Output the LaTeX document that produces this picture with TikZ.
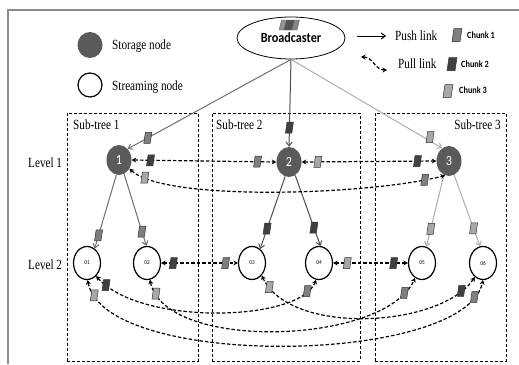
\documentclass[tikz,border=0pt]{standalone}
\usepackage{fontspec}
\setmainfont{Liberation Serif}[FakeStretch=0.8]
\newfontfamily\calfont{Carlito}[FakeStretch=0.87]
\usetikzlibrary{shapes.geometric,arrows.meta}
\definecolor{nodegray}{HTML}{5A5A5A}
\definecolor{chA}{HTML}{7F7F7F}
\definecolor{chB}{HTML}{404040}
\definecolor{chC}{HTML}{A8A8A8}
\definecolor{lineA}{HTML}{6E6E6E}
\definecolor{lineB}{HTML}{4D4D4D}
\definecolor{lineC}{HTML}{ADADAD}
\definecolor{framegray}{HTML}{8C8C8C}
\tikzset{
  storage/.style={ellipse, fill=nodegray, minimum width=25pt, minimum height=30pt, inner sep=0pt, text=white, font=\calfont\fontsize{14}{14}\selectfont},
  stream/.style={ellipse, draw=black, line width=1.2pt, minimum width=27pt, minimum height=33pt, inner sep=0pt, font=\calfont\fontsize{6}{6}\selectfont},
  legcircle/.style={circle, draw=black, line width=1.2pt, minimum size=24pt, inner sep=0pt},
  bcast/.style={ellipse, draw=black, line width=0.8pt, minimum width=108pt, minimum height=42pt, inner sep=0pt, font=\calfont\bfseries\fontsize{14}{16}\selectfont},
  chunk/.style={solid, trapezium, trapezium left angle=72, trapezium right angle=108, trapezium stretches=true, minimum width=8pt, minimum height=11pt, inner sep=1pt, outer sep=0pt, draw=black!80, line width=0.5pt},
  chunkone/.style={chunk, fill=chA},
  chunktwo/.style={chunk, fill=chB},
  chunkthree/.style={chunk, fill=chC},
  bigchunk/.style={minimum width=10pt, minimum height=13pt},
  lab/.style={font=\fontsize{14}{16}\selectfont, inner sep=0pt},
  ctext/.style={font=\calfont\bfseries\fontsize{9.5}{11}\selectfont, inner sep=0pt},
  subbox/.style={draw=black, line width=0.9pt, dash pattern=on 3pt off 2pt, inner sep=0pt},
  push/.style={line width=1pt, arrows={-Straight Barb[length=4pt,width=6pt]}},
  pull/.style={line width=1.2pt, dash pattern=on 3.5pt off 2pt, arrows={Stealth[length=4.5pt,width=5pt]-Stealth[length=4.5pt,width=5pt]}}
}
\begin{document}
\begin{tikzpicture}[x=1pt,y=-1pt]
\useasboundingbox (0,0) rectangle (519,364);
% frame
\draw[framegray, line width=2pt] (8,364) -- (8,10) -- (519,10);
% sub-tree boxes
\node[subbox, minimum width=131pt, minimum height=248pt] (tree1) at (132.5,237) {};
\node[subbox, minimum width=148pt, minimum height=248pt] (tree2) at (286,237) {};
\node[subbox, minimum width=131pt, minimum height=248pt] (tree3) at (440.5,237) {};
\node[lab, anchor=base west] (tl1) at (73,129) {Sub-tree 1};
\node[lab, anchor=base west] (tl2) at (216,129) {Sub-tree 2};
\node[lab, anchor=base east] (tl3) at (501,129) {Sub-tree 3};
\node[lab, anchor=base west] (lv1) at (28,167) {Level 1};
\node[lab, anchor=base west] (lv2) at (28,269) {Level 2};
% legend
\node[storage, minimum height=26pt] (legS) at (90,45) {};
\node[legcircle] (legT) at (90,85) {};
\node[lab, anchor=base west] (legSt) at (112,49) {Storage node};
\node[lab, anchor=base west] (legTt) at (112,90) {Streaming node};
\coordinate (pushA) at (357,36);
\coordinate (pushB) at (386,36);
\draw[push, black] (pushA) -- (pushB);
\node[lab, anchor=base west] (pushT) at (395,40) {Push link};
\coordinate (pullA) at (361,57);
\coordinate (pullB) at (387,70);
\draw[pull] (pullA) .. controls (373,57) and (375,70) .. (pullB);
\node[lab, anchor=base west] (pullT) at (398,68) {Pull link};
\node[chunkone, bigchunk] (lc1) at (457,35) {};
\node[ctext, anchor=base west] (lc1t) at (467,38) {Chunk 1};
\node[chunktwo, bigchunk] (lc2) at (452,64) {};
\node[ctext, anchor=base west] (lc2t) at (461,67) {Chunk 2};
\node[chunkthree, bigchunk] (lc3) at (448,91) {};
\node[ctext, anchor=base west] (lc3t) at (459,93) {Chunk 3};
% broadcaster
\node[bcast] (bc) at (291,38) {Broadcaster};
\fill[chA!85, draw=black!60, line width=0.3pt] (279,30) -- (284,30) -- (286.5,20) -- (281.5,20) -- cycle;
\fill[chB!90, draw=black!60, line width=0.3pt] (284,30) -- (292,30) -- (294.5,20) -- (286.5,20) -- cycle;
\fill[chA!95, draw=black!60, line width=0.3pt] (292,30) -- (297,30) -- (299.5,20) -- (294.5,20) -- cycle;
% nodes
\node[storage] (s1) at (119,160) {1};
\node[storage] (s2) at (289,162) {2};
\node[storage] (s3) at (449,161) {3};
\node[stream] (n01) at (87,263) {01};
\node[stream] (n02) at (147,263) {02};
\node[stream] (n03) at (252,263) {03};
\node[stream] (n04) at (319,263) {04};
\node[stream] (n05) at (422,263) {05};
\node[stream] (n06) at (483,263) {06};
% push links
\draw[push, lineA] (bc.south) -- node[chunkone, pos=.877] (k01) {} (s1.52);
\draw[push, lineB] (bc.south) -- node[chunktwo, pos=.78] (k02) {} (s2.north);
\draw[push, lineC] (bc.south) -- node[chunkthree, pos=.92, yshift=4pt] (k03) {} (s3.118);
\draw[push, lineA] (s1.-100) -- node[chunkone, pos=.82] (k11) {} (n01.62);
\draw[push, lineA] (s1.-70) -- node[chunkone, pos=.8] (k12) {} (n02.92);
\draw[push, lineB] (s2.-105) -- node[chunktwo, pos=.72] (k21) {} (n03.60);
\draw[push, lineB] (s2.-65) -- node[chunktwo, pos=.74] (k22) {} (n04.85);
\draw[push, lineC] (s3.-110) -- node[chunkthree, pos=.75] (k31) {} (n05.75);
\draw[push, lineC] (s3.-70) -- node[chunkthree, pos=.75] (k32) {} (n06.100);
% pull links level 1
\draw[pull] (s1.east) -- node[chunktwo, pos=.13] (p1a) {} node[chunkone, pos=.87] (p1b) {} (s2.west);
\draw[pull] (s2.east) -- node[chunkthree, pos=.12] (p2a) {} node[chunktwo, pos=.86] (p2b) {} (s3.west);
\draw[pull] (s1.-40) .. controls (165,202) and (370,195) .. node[chunkthree, pos=.1] (p3a) {} node[chunkone, pos=.92] (p3b) {} (s3.-105);
% pull links level 2
\draw[pull] (n02.east) -- node[chunktwo, pos=.16] (q1a) {} node[chunkone, pos=.84] (q1b) {} (n03.west);
\draw[pull] (n04.east) -- node[chunkthree, pos=.19] (q2a) {} node[chunktwo, pos=.81] (q2b) {} (n05.west);
\draw[pull] (n01.-55) .. controls (140,326) and (300,322) .. node[chunktwo, pos=.065] (q3a) {} node[chunkone, pos=.9] (q3b) {} (n04.-100);
\draw[pull] (n02.-80) .. controls (165,352) and (385,345) .. node[chunkthree, pos=.07] (q4a) {} node[chunkone, pos=.92] (q4b) {} (n05.-115);
\draw[pull] (n01.-88) .. controls (105,370) and (465,365) .. node[chunkthree, pos=.06] (q5a) {} node[chunkone, pos=.93] (q5b) {} (n06.-90);
\draw[pull] (n03.-52) .. controls (290,336) and (440,328) .. node[chunkthree, pos=.07] (q6a) {} node[chunktwo, pos=.9] (q6b) {} (n06.-120);
\end{tikzpicture}
\end{document}
